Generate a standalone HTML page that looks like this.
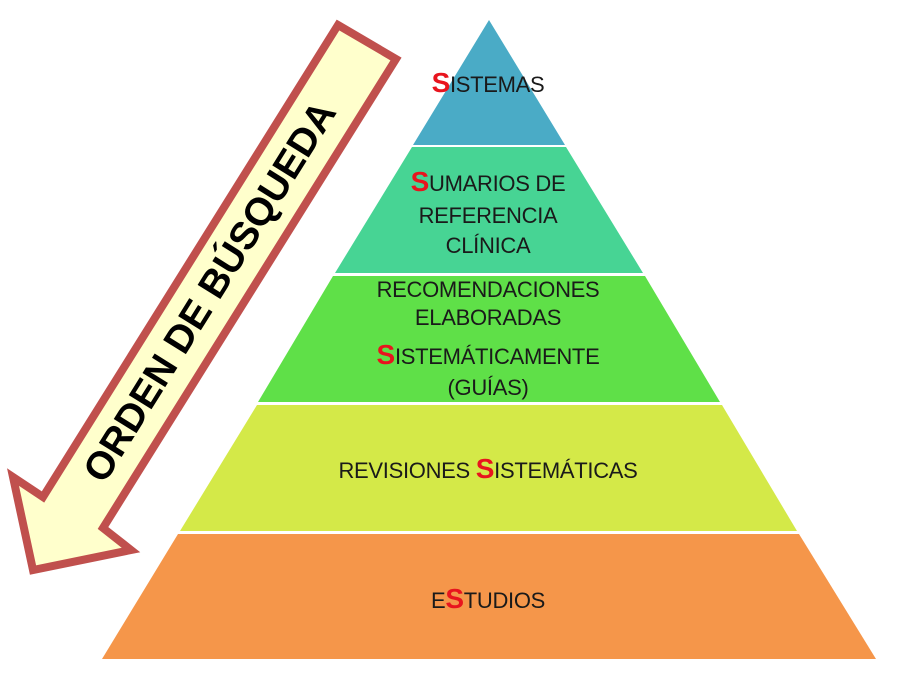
<!DOCTYPE html>
<html><head><meta charset="utf-8"><style>
html,body{margin:0;padding:0;background:#fff;}
svg{display:block}
text{font-family:"Liberation Sans",sans-serif;fill:#1a1a1a;}
.r{fill:#e8141e;font-size:28px;font-weight:bold;}
</style></head><body>
<svg width="923" height="684" viewBox="0 0 923 684" xmlns="http://www.w3.org/2000/svg">
<polygon points="489,20 565,145 413,145" fill="#4aabc6"/>
<polygon points="412,147 566,147 643,273 335,273" fill="#47d494"/>
<polygon points="333,276 645,276 720,402 258,402" fill="#5fe048"/>
<polygon points="257,405 722,405 797,531 180,531" fill="#d4e948"/>
<polygon points="178,534 799,534 876,659 102,659" fill="#f5964a"/>

<polygon points="338,25 396,59 103,528 131,550 33,570 13,477 43,497" fill="#ffffcc" stroke="#c0504d" stroke-width="8" stroke-linejoin="miter"/>
<text transform="translate(212,293) rotate(-58)" text-anchor="middle" dominant-baseline="middle" style="font-size:39px;font-weight:bold;fill:#000">ORDEN DE BÚSQUEDA</text>

<g font-size="22" letter-spacing="-0.3" text-anchor="middle">
<text x="488" y="92"><tspan class="r">S</tspan>ISTEMAS</text>
<text x="488" y="191"><tspan class="r">S</tspan>UMARIOS DE</text>
<text x="488" y="223">REFERENCIA</text>
<text x="488" y="253">CLÍNICA</text>
<text x="488" y="297">RECOMENDACIONES</text>
<text x="488" y="325">ELABORADAS</text>
<text x="488" y="364"><tspan class="r">S</tspan>ISTEMÁTICAMENTE</text>
<text x="488" y="395">(GUÍAS)</text>
<text x="488" y="478">REVISIONES <tspan class="r">S</tspan>ISTEMÁTICAS</text>
<text x="488" y="608">E<tspan class="r">S</tspan>TUDIOS</text>
</g>
</svg>
</body></html>
